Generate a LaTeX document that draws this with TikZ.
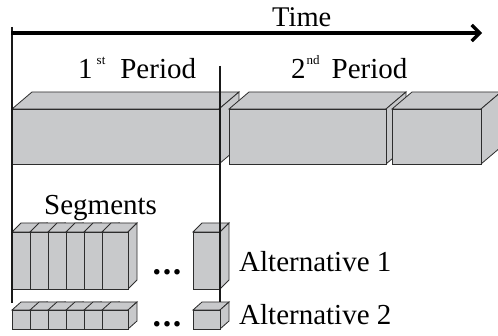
\documentclass[tikz,border=0pt]{standalone}
\usepackage{fontspec}
\setmainfont{Liberation Serif}
\usetikzlibrary{arrows.meta}
\definecolor{boxfill}{RGB}{200,201,203}
\definecolor{edgecol}{RGB}{45,45,45}
\tikzset{
  boxstyle/.style={fill=boxfill,draw=edgecol,line width=0.8pt,line join=miter},
  vline/.style={draw=black!90,line width=2pt},
  lbl/.style={inner sep=0pt,anchor=base west,font=\fontsize{29}{32}\selectfont},
  dotlbl/.style={inner sep=0pt,anchor=base west,font=\fontsize{34}{36}\selectfont\bfseries}
}
% x y w h dx dy
\newcommand\mycuboid[6]{%
  \filldraw[boxstyle] ({#1},{#2}) -- ({#1+#5},{#2+#6}) -- ({#1+#3+#5},{#2+#6}) -- ({#1+#3},{#2}) -- cycle;
  \filldraw[boxstyle] ({#1+#3},{#2}) -- ({#1+#3+#5},{#2+#6}) -- ({#1+#3+#5},{#2+#4+#6}) -- ({#1+#3},{#2+#4}) -- cycle;
  \filldraw[boxstyle] ({#1},{#2}) rectangle ({#1+#3},{#2+#4});
}
\newcommand\supr[1]{\raisebox{14pt}{\fontsize{13}{13}\selectfont #1}}
\begin{document}
\begin{tikzpicture}[x=1pt,y=-1pt]
\useasboundingbox (0,0) rectangle (498,336);
% big period boxes
\mycuboid{12}{109}{207}{55}{20}{-17}
\mycuboid{229}{109}{157}{55}{20}{-17}
\mycuboid{392}{109}{89}{55}{20}{-17}
% alternative 1 segments
\foreach \x in {12,30,48,66,84,102} {\mycuboid{\x}{232}{26}{57}{9}{-9}}
\mycuboid{193}{232}{27}{57}{9}{-9}
% alternative 2 segments
\foreach \x in {12,30,48,66,84,102} {\mycuboid{\x}{310}{26}{19}{9}{-8}}
\mycuboid{193}{310}{27}{19}{9}{-8}
% vertical lines
\coordinate (lt) at (11.5,27);
\coordinate (lb) at (11.5,303);
\coordinate (mt) at (220,66);
\coordinate (mb) at (220,302);
\draw[vline] (lt) -- (lb);
\draw[vline] (mt) -- (mb);
% time arrow
\coordinate (ts) at (11,33);
\coordinate (te) at (482,33);
\draw[line width=3.2pt,-{Straight Barb[length=8pt,width=16pt,line width=3.2pt]}] (ts) -- (te);
% labels
\node[lbl,font=\fontsize{28.5}{32}\selectfont] (time) at (272,27) {Time};
\node[lbl] (p1) at (78,79) {1\hspace{4pt}\supr{st}\hspace{15pt}Period};
\node[lbl] (p2) at (291,79) {2\hspace{1pt}\supr{nd}\hspace{12pt}Period};
\node[lbl] (seg) at (44,215) {Segments};
\node[dotlbl] (d1) at (152.5,275) {.\hspace{1.6pt}.\hspace{1.6pt}.};
\node[dotlbl] (d2) at (152.5,327) {.\hspace{1.6pt}.\hspace{1.6pt}.};
\node[lbl] (a1) at (239,272) {Alternative 1};
\node[lbl] (a2) at (239,325) {Alternative 2};
\end{tikzpicture}
\end{document}
